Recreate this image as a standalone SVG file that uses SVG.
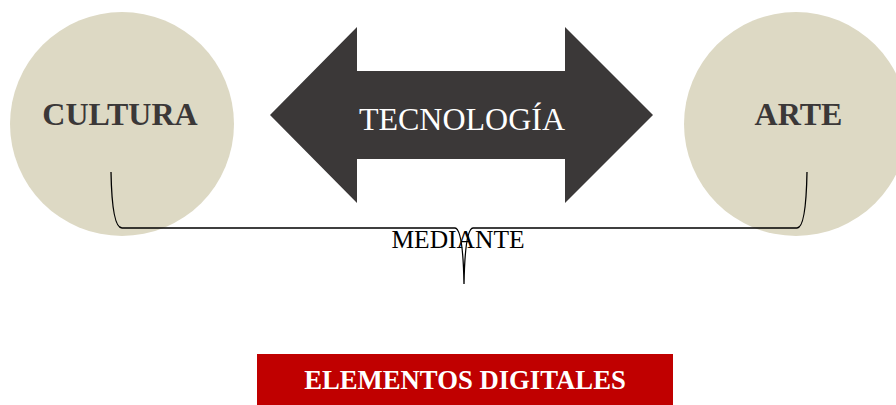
<svg xmlns="http://www.w3.org/2000/svg" width="896" height="405" viewBox="0 0 896 405">
<style>
.circ{fill:#DDD9C4}
.lbl{font-family:"Liberation Serif",serif;font-weight:bold;font-size:32px;fill:#3B3838;text-anchor:middle}
.brace{fill:none;stroke:#000;stroke-width:1.3}
</style>
<rect width="896" height="405" fill="#fff"/>
<g id="cultura">
<circle class="circ" cx="122" cy="124" r="112"/>
<text class="lbl" x="120" y="125">CULTURA</text>
</g>
<g id="arte">
<circle class="circ" cx="796" cy="124" r="112"/>
<text class="lbl" x="798.5" y="125">ARTE</text>
</g>
<g id="tecnologia">
<polygon points="270,115 357,27 357,71 565,71 565,27 653,115 565,203 565,159 357,159 357,203" fill="#3B3838"/>
<text x="462" y="130" font-family="Liberation Serif, serif" font-size="32" fill="#fff" text-anchor="middle">TECNOLOGÍA</text>
</g>
<g id="connectors">
<path class="brace" d="M111,172 Q112,228 122,228 L455,228 Q463,229 464,284 Q465,229 473,228 L797,228 Q806,228 807,172"/>
</g>
<g id="mediante">
<text x="458" y="248" font-family="Liberation Serif, serif" font-size="25.5" fill="#000" text-anchor="middle">MEDIANTE</text>
</g>
<g id="elementos">
<rect x="257" y="354" width="416" height="51" fill="#C00000"/>
<text x="465" y="389" font-family="Liberation Serif, serif" font-weight="bold" font-size="26.7" fill="#fff" text-anchor="middle">ELEMENTOS DIGITALES</text>
</g>
</svg>
